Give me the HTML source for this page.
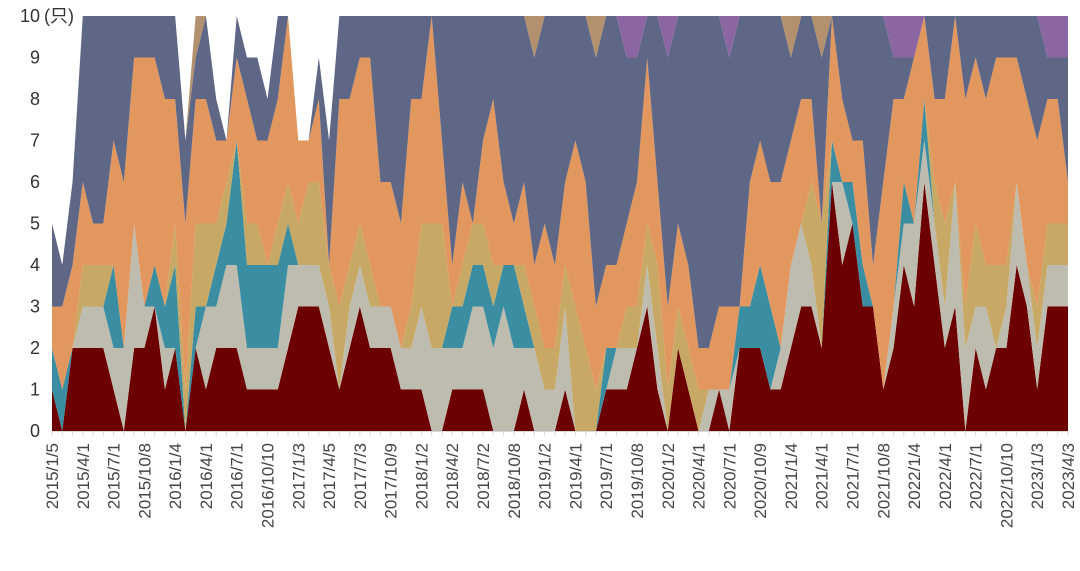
<!DOCTYPE html>
<html><head><meta charset="utf-8"><style>
html,body{margin:0;padding:0;background:#fff;}
svg{display:block;font-family:"Liberation Sans","Noto Sans CJK SC",sans-serif;}
</style></head><body>
<svg id="chart" width="1080" height="571" viewBox="0 0 1080 571" xmlns="http://www.w3.org/2000/svg">
<g id="areas"></g>
<g id="yaxis"></g>
<g id="xaxis"></g>
</svg>
<script>
const xLabels = ["2015/1/5","2015/4/1","2015/7/1","2015/10/8","2016/1/4","2016/4/1","2016/7/1","2016/10/10","2017/1/3","2017/4/5","2017/7/3","2017/10/9","2018/1/2","2018/4/2","2018/7/2","2018/10/8","2019/1/2","2019/4/1","2019/7/1","2019/10/8","2020/1/2","2020/4/1","2020/7/1","2020/10/9","2021/1/4","2021/4/1","2021/7/1","2021/10/8","2022/1/4","2022/4/1","2022/7/1","2022/10/10","2023/1/3","2023/4/3"];
const yTicks = [0,1,2,3,4,5,6,7,8,9,10];
const seriesRed    = [1,0,2,2,2,2,1,0,2,2,3,1,2,0,2,1,2,2,2,1,1,1,1,2,3,3,3,2,1,2,3,2,2,2,1,1,1,0,0,1,1,1,1,0,0,0,1,0,0,0,1,0,0,0,1,1,1,2,3,1,0,2,1,0,0,1,0,2,2,2,1,1,2,3,3,2,6,4,5,3,3,1,2,4,3,6,4,2,3,0,2,1,2,2,4,3,1,3,3,3];
const seriesGray   = [0,0,0,1,1,1,1,2,3,1,0,1,0,0,0,2,1,2,2,1,1,1,1,2,1,1,1,1,0,1,1,1,1,1,1,1,2,2,2,1,1,2,2,2,3,2,1,2,1,1,2,0,0,0,0,1,1,0,1,1,0,0,0,0,1,0,1,0,0,0,0,1,2,2,1,0,0,2,0,0,0,0,1,1,2,1,1,1,3,2,1,2,0,1,2,1,1,1,1,1];
const seriesTeal   = [1,1,0,0,0,0,2,0,0,0,1,1,2,0,1,0,1,1,3,2,2,2,2,1,0,0,0,0,0,0,0,0,0,0,0,0,0,0,0,1,1,1,1,1,1,2,1,0,0,0,0,0,0,0,1,0,0,0,0,0,0,0,0,0,0,0,0,1,1,2,2,0,0,0,0,0,1,0,1,1,0,0,0,1,0,1,0,0,0,0,0,0,0,0,0,0,0,0,0,0];
const seriesKhaki  = [0,0,0,1,1,1,0,0,0,0,0,0,1,1,2,2,1,1,0,1,1,0,1,1,1,2,2,1,2,1,1,1,0,0,0,1,2,3,3,0,1,1,1,1,0,0,1,1,1,1,1,3,2,1,0,0,1,1,1,2,1,1,1,1,0,0,0,0,0,0,0,0,0,0,2,3,0,0,0,0,0,0,0,0,0,0,1,2,0,1,2,1,2,1,0,0,1,1,1,1];
const seriesOrange = [1,2,2,2,1,1,3,4,4,6,5,5,3,4,3,3,2,1,2,3,2,3,3,4,2,1,2,0,5,4,4,5,3,3,3,5,3,5,2,1,2,0,2,4,2,1,2,1,3,2,2,4,4,2,2,2,2,3,4,2,2,2,2,1,1,2,2,0,3,3,3,4,3,3,2,0,3,2,1,3,1,5,5,2,4,2,2,3,4,5,4,4,5,5,3,4,4,3,3,1];
const seriesSlate  = [2,1,2,4,5,5,3,4,1,1,1,2,2,2,1,2,1,0,1,1,2,1,2,0,0,0,1,3,2,2,1,1,4,4,5,2,2,0,3,6,4,5,3,2,4,5,4,5,5,6,4,3,4,6,6,6,4,3,1,4,6,5,6,8,8,7,6,7,4,3,4,4,2,2,2,4,0,2,3,3,6,4,1,1,0,0,2,2,0,2,1,2,1,1,1,2,3,1,1,3];
const seriesBrown  = [0,0,0,0,0,0,0,0,0,0,0,0,0,0,1,0,0,0,0,0,0,0,0,0,0,0,0,0,0,0,0,0,0,0,0,0,0,0,0,0,0,0,0,0,0,0,0,1,0,0,0,0,0,1,0,0,0,0,0,0,0,0,0,0,0,0,0,0,0,0,0,0,1,0,0,1,0,0,0,0,0,0,0,0,0,0,0,0,0,0,0,0,0,0,0,0,0,0,0,0];
const seriesPurple = [0,0,0,0,0,0,0,0,0,0,0,0,0,0,0,0,0,0,0,0,0,0,0,0,0,0,0,0,0,0,0,0,0,0,0,0,0,0,0,0,0,0,0,0,0,0,0,0,0,0,0,0,0,0,0,0,1,1,0,0,1,0,0,0,0,0,1,0,0,0,0,0,0,0,0,0,0,0,0,0,0,0,1,1,1,0,0,0,0,0,0,0,0,0,0,0,0,1,1,1];

const NS = "http://www.w3.org/2000/svg";
const X0 = 52, X1 = 1068, Y0 = 431, Y10 = 16;
const N = seriesRed.length;
const xAt = i => X0 + (X1 - X0) * i / (N - 1);
const yAt = v => Y0 - (Y0 - Y10) * v / 10;

const stack = [
  {name:"area-red", data:seriesRed, color:"#6c0000"},
  {name:"area-gray", data:seriesGray, color:"#bdbcae"},
  {name:"area-teal", data:seriesTeal, color:"#3b8ea2"},
  {name:"area-khaki", data:seriesKhaki, color:"#c8a865"},
  {name:"area-orange", data:seriesOrange, color:"#e2975f"},
  {name:"area-slate", data:seriesSlate, color:"#5f6786"},
  {name:"area-brown", data:seriesBrown, color:"#b3916e"},
  {name:"area-purple", data:seriesPurple, color:"#8c66a3"}
];
const areas = document.getElementById("areas");
let base = new Array(N).fill(0);
stack.forEach(s => {
  const top = base.map((b, i) => b + s.data[i]);
  let pts = [];
  for (let i = 0; i < N; i++) pts.push(xAt(i).toFixed(2) + "," + yAt(top[i]).toFixed(2));
  for (let i = N - 1; i >= 0; i--) pts.push(xAt(i).toFixed(2) + "," + yAt(base[i]).toFixed(2));
  const p = document.createElementNS(NS, "polygon");
  p.setAttribute("points", pts.join(" "));
  p.setAttribute("fill", s.color);
  
  
  areas.appendChild(p);
  base = top;
});

const yaxis = document.getElementById("yaxis");
yTicks.forEach(v => {
  const t = document.createElementNS(NS, "text");
  t.setAttribute("x", 40);
  t.setAttribute("y", yAt(v) + 6);
  t.setAttribute("text-anchor", "end");
  t.setAttribute("font-size", "18");
  t.setAttribute("fill", "#333");
  t.textContent = String(v);
  
  
  yaxis.appendChild(t);
});
const unit = document.createElementNS(NS, "text");
unit.setAttribute("x", 44);
unit.setAttribute("y", yAt(10) + 6);
unit.setAttribute("font-size", "18");
unit.setAttribute("fill", "#333");
unit.textContent = "(只)";


yaxis.appendChild(unit);

const xaxis = document.getElementById("xaxis");
const axl = document.createElementNS(NS, "line");
axl.setAttribute("x1", X0); axl.setAttribute("x2", X1);
axl.setAttribute("y1", Y0 + 0.5); axl.setAttribute("y2", Y0 + 0.5);
axl.setAttribute("stroke", "#d9d9d9");


xaxis.appendChild(axl);
for (let i = 0; i < N; i++) {
  const tk = document.createElementNS(NS, "line");
  tk.setAttribute("x1", xAt(i)); tk.setAttribute("x2", xAt(i));
  tk.setAttribute("y1", Y0); tk.setAttribute("y2", Y0 + 5);
  tk.setAttribute("stroke", "#d9d9d9");
  
  
  xaxis.appendChild(tk);
}
xLabels.forEach((lab, k) => {
  const x = xAt(k * 3) + 6;
  const t = document.createElementNS(NS, "text");
  t.setAttribute("transform", "translate(" + x.toFixed(2) + ",443) rotate(-90)");
  t.setAttribute("text-anchor", "end");
  t.setAttribute("font-size", "17");
  t.setAttribute("fill", "#444");
  t.textContent = lab;
  
  
  xaxis.appendChild(t);
});
</script>
</body></html>
